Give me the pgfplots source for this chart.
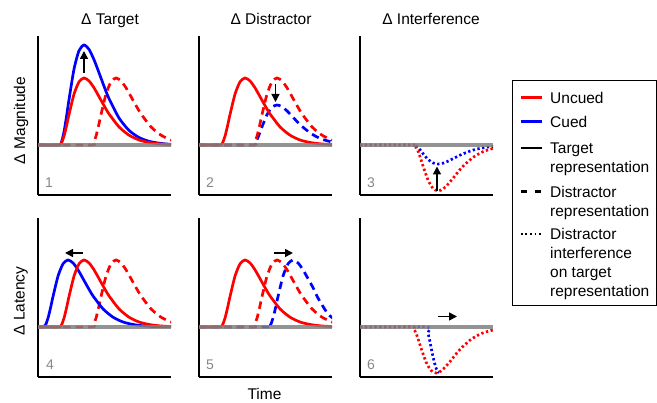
\documentclass[border=0pt]{standalone}
\usepackage{pgfplots}
\pgfplotsset{compat=1.18}
\usepackage{fontspec}
\setmainfont{Liberation Sans}
\usetikzlibrary{arrows.meta}
\definecolor{cred}{RGB}{255,0,0}
\definecolor{cblue}{RGB}{0,0,255}
\definecolor{cgray}{RGB}{128,128,128}
\definecolor{numgray}{RGB}{135,135,135}
\newcommand{\tf}{\fontsize{15.5}{19}\selectfont}
\newcommand{\nf}{\fontsize{14}{15}\selectfont}
\tikzset{arr/.style={-{Triangle[length=8pt,width=8pt]}, line width=1.5pt, black}}
\pgfplotsset{
  panel/.style={scale only axis, width=133pt, height=159pt,
    xmin=0,xmax=133,ymin=-50,ymax=109,
    axis x line=bottom, axis y line=left,
    axis line style={-, line width=1.8pt, black},
    xtick=\empty, ytick=\empty, anchor=south west, clip=true},
  sol/.style={line width=2.7pt, smooth, tension=0.4},
  das/.style={line width=2.7pt, smooth, tension=0.4, dash pattern=on 7.5pt off 5pt},
  dot/.style={line width=2.7pt, smooth, tension=0.4, dash pattern=on 2.3pt off 2.5pt},
  base/.style={cgray, line width=3.2pt, opacity=0.85},
}
\begin{document}
\begin{tikzpicture}
\path[use as bounding box] (0pt,0pt) rectangle (657pt,403pt);
% ---------- Panel 1
\begin{axis}[panel, at={(38pt,208pt)}]
\addplot[cred, das] coordinates {(0,0)(53,0)(55.5,2.0)(58,8.8)(60.5,19.0)(63,30.4)(68,50.8)(73,63.2)(78,67)(83,64.1)(88,57.2)(93,48.4)(98,39.4)(103,31.1)(113,18.1)(123,9.8)(133,5.0)(143,2.5)};
\addplot[cblue, sol] coordinates {(0,0)(21,0)(23.5,3.0)(26,13.2)(28.5,28.4)(31,45.4)(36,75.8)(41,94.4)(46,100)(51,95.7)(56,85.3)(61,72.3)(66,58.8)(71,46.4)(81,27.0)(91,14.6)(101,7.5)(111,3.7)(121,1.8)(131,0.8)(141,0.4)};
\addplot[cred, sol] coordinates {(0,0)(21,0)(23.5,2.0)(26,8.8)(28.5,19.0)(31,30.4)(36,50.8)(41,63.2)(46,67)(51,64.1)(56,57.2)(61,48.4)(66,39.4)(71,31.1)(81,18.1)(91,9.8)(101,5.0)(111,2.5)(121,1.2)(131,0.5)(141,0.3)};
\addplot[base] coordinates {(0,0)(133,0)};
\draw[arr] (axis cs:46,72) -- (axis cs:46,94);
\node[numgray, font=\nf] at (axis cs:11,-38) {1};
\end{axis}
% ---------- Panel 2
\begin{axis}[panel, at={(199pt,208pt)}]
\addplot[cblue, das] coordinates {(0,0)(53,0)(55.5,1.2)(58,5.3)(60.5,11.4)(63,18.2)(68,30.3)(73,37.8)(78,40)(83,38.3)(88,34.1)(93,28.9)(98,23.5)(103,18.6)(113,10.8)(123,5.8)(133,3.0)(143,1.5)};
\addplot[cred, das] coordinates {(0,0)(53,0)(55.5,2.0)(58,8.8)(60.5,19.0)(63,30.4)(68,50.8)(73,63.2)(78,67)(83,64.1)(88,57.2)(93,48.4)(98,39.4)(103,31.1)(113,18.1)(123,9.8)(133,5.0)(143,2.5)};
\addplot[cred, sol] coordinates {(0,0)(21,0)(23.5,2.0)(26,8.8)(28.5,19.0)(31,30.4)(36,50.8)(41,63.2)(46,67)(51,64.1)(56,57.2)(61,48.4)(66,39.4)(71,31.1)(81,18.1)(91,9.8)(101,5.0)(111,2.5)(121,1.2)(131,0.5)(141,0.3)};
\addplot[base] coordinates {(0,0)(133,0)};
\draw[arr] (axis cs:76.5,61) -- (axis cs:76.5,43);
\node[numgray, font=\nf] at (axis cs:11,-38) {2};
\end{axis}
% ---------- Panel 3
\begin{axis}[panel, at={(360pt,208pt)}]
\addplot[cblue, dot] coordinates {(0,0)(53,0)(55.5,-0.6)(58,-2.5)(60.5,-5.4)(63,-8.6)(68,-14.4)(73,-17.9)(78,-19)(83,-18.2)(88,-16.2)(93,-13.7)(98,-11.2)(103,-8.8)(113,-5.1)(123,-2.8)(133,-1.4)(143,-0.7)};
\addplot[cred, dot] coordinates {(0,0)(53,0)(55.5,-1.4)(58,-6.1)(60.5,-13.1)(63,-20.9)(68,-34.9)(73,-43.4)(78,-46)(83,-44.0)(88,-39.2)(93,-33.3)(98,-27.0)(103,-21.3)(113,-12.4)(123,-6.7)(133,-3.5)(143,-1.7)};
\addplot[base] coordinates {(0,0)(133,0)};
\draw[arr] (axis cs:77,-46.5) -- (axis cs:77,-21.5);
\node[numgray, font=\nf] at (axis cs:11,-38) {3};
\end{axis}
% ---------- Panel 4
\begin{axis}[panel, at={(38pt,26pt)}]
\addplot[cred, das] coordinates {(0,0)(53,0)(55.5,2.0)(58,8.8)(60.5,19.0)(63,30.4)(68,50.8)(73,63.2)(78,67)(83,64.1)(88,57.2)(93,48.4)(98,39.4)(103,31.1)(113,18.1)(123,9.8)(133,5.0)(143,2.5)};
\addplot[cblue, sol] coordinates {(0,0)(5,0)(7.5,2.0)(10,8.8)(12.5,19.0)(15,30.4)(20,50.8)(25,63.2)(30,67)(35,64.1)(40,57.2)(45,48.4)(50,39.4)(55,31.1)(65,18.1)(75,9.8)(85,5.0)(95,2.5)(105,1.2)(115,0.5)(125,0.3)(133,0.1)};
\addplot[cred, sol] coordinates {(0,0)(21,0)(23.5,2.0)(26,8.8)(28.5,19.0)(31,30.4)(36,50.8)(41,63.2)(46,67)(51,64.1)(56,57.2)(61,48.4)(66,39.4)(71,31.1)(81,18.1)(91,9.8)(101,5.0)(111,2.5)(121,1.2)(131,0.5)(141,0.3)};
\addplot[base] coordinates {(0,0)(133,0)};
\draw[arr] (axis cs:45,74) -- (axis cs:27,74);
\node[numgray, font=\nf] at (axis cs:12,-38) {4};
\end{axis}
% ---------- Panel 5
\begin{axis}[panel, at={(199pt,26pt)}]
\addplot[cblue, das] coordinates {(0,0)(69,0)(71.5,2.0)(74,8.8)(76.5,19.0)(79,30.4)(84,50.8)(89,63.2)(94,67)(99,64.1)(104,57.2)(109,48.4)(114,39.4)(119,29)(129,13)(139,5)};
\addplot[cred, das] coordinates {(0,0)(53,0)(55.5,2.0)(58,8.8)(60.5,19.0)(63,30.4)(68,50.8)(73,63.2)(78,67)(83,64.1)(88,57.2)(93,48.4)(98,39.4)(103,31.1)(113,18.1)(123,9.8)(133,5.0)(143,2.5)};
\addplot[cred, sol] coordinates {(0,0)(21,0)(23.5,2.0)(26,8.8)(28.5,19.0)(31,30.4)(36,50.8)(41,63.2)(46,67)(51,64.1)(56,57.2)(61,48.4)(66,39.4)(71,31.1)(81,18.1)(91,9.8)(101,5.0)(111,2.5)(121,1.2)(131,0.5)(141,0.3)};
\addplot[base] coordinates {(0,0)(133,0)};
\draw[arr] (axis cs:75,74) -- (axis cs:94,74);
\node[numgray, font=\nf] at (axis cs:11,-38) {5};
\end{axis}
% ---------- Panel 6
\begin{axis}[panel, at={(360pt,26pt)}]
\addplot[cblue, dot] coordinates {(0,0)(66,0)(68,-6)(70,-15)(72,-25)(74,-34)(76,-41)(78,-45)(79,-45.6)};
\addplot[cred, dot] coordinates {(0,0)(51,0)(53.5,-1.4)(56,-6.1)(58.5,-13.1)(61,-20.9)(66,-34.9)(71,-43.4)(76,-46)(81,-44.0)(86,-39.2)(91,-33.3)(96,-27.0)(101,-21.3)(111,-12.4)(121,-6.7)(131,-3.5)(141,-1.7)};
\addplot[base] coordinates {(0,0)(133,0)};
\draw[arr] (axis cs:77.5,10.5) -- (axis cs:97,10.5);
\node[numgray, font=\nf] at (axis cs:11,-38) {6};
\end{axis}
% ---------- Titles and labels
\node[anchor=base, font=\tf, inner sep=0pt] at (110pt,378pt) {Δ Target};
\node[anchor=base, font=\tf, inner sep=0pt] at (271pt,378pt) {Δ Distractor};
\node[anchor=base, font=\tf, inner sep=0pt] at (431pt,378pt) {Δ Interference};
\node[rotate=90, font=\tf, inner sep=0pt] at (21pt,282.5pt) {Δ Magnitude};
\node[rotate=90, font=\tf, inner sep=0pt] at (21pt,102pt) {Δ Latency};
\node[anchor=base, font=\tf, inner sep=0pt] at (264.5pt,3pt) {Time};
% ---------- Legend
\draw[line width=1pt, black] (512.7pt,97.3pt) rectangle (656pt,322pt);
\draw[cred, line width=2.5pt] (520.7pt,305.3pt) -- (541.7pt,305.3pt);
\draw[cblue, line width=2.5pt] (520.7pt,281.3pt) -- (541.7pt,281.3pt);
\draw[black, line width=2.5pt] (520.7pt,255pt) -- (541.7pt,255pt);
\draw[black, line width=2.5pt, dash pattern=on 6pt off 8pt] (520.7pt,211.3pt) -- (541.7pt,211.3pt);
\draw[black, line width=1.8pt, dash pattern=on 1.8pt off 2.8pt] (520.7pt,169pt) -- (541.7pt,169pt);
\begin{scope}[every node/.style={anchor=base west, font=\tf, inner sep=0pt}]
\node at (550pt,299.7pt) {Uncued};
\node at (550pt,275.7pt) {Cued};
\node at (550pt,249pt) {Target};
\node at (550pt,230.3pt) {representation};
\node at (550pt,205.5pt) {Distractor};
\node at (550pt,186.8pt) {representation};
\node at (550pt,163pt) {Distractor};
\node at (550pt,144pt) {interference};
\node at (550pt,125pt) {on target};
\node at (550pt,106pt) {representation};
\end{scope}
\end{tikzpicture}
\end{document}
